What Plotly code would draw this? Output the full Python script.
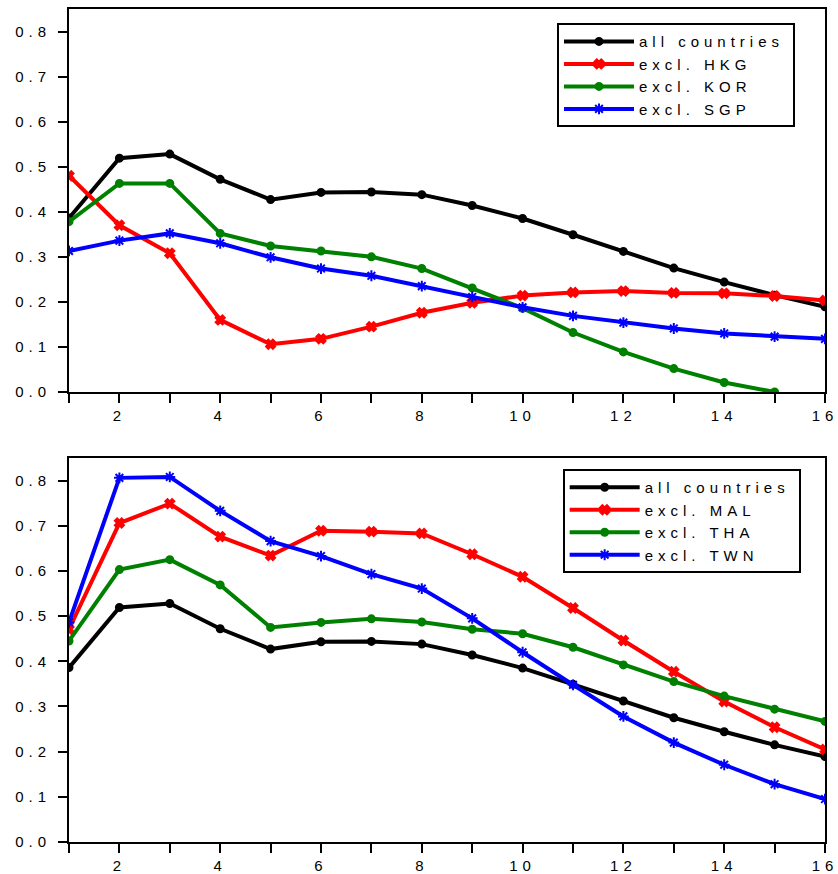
import plotly.graph_objects as go
from plotly.subplots import make_subplots

x = list(range(1, 17))

all_countries = [0.386, 0.519, 0.528, 0.472, 0.427, 0.443, 0.444, 0.438, 0.414, 0.385,
                 0.349, 0.312, 0.275, 0.244, 0.215, 0.189]
excl_hkg = [0.480, 0.370, 0.308, 0.160, 0.106, 0.118, 0.145, 0.176, 0.198, 0.214,
            0.221, 0.224, 0.220, 0.219, 0.213, 0.203]
excl_kor = [0.378, 0.463, 0.463, 0.352, 0.324, 0.313, 0.300, 0.274, 0.231, 0.186,
            0.132, 0.089, 0.052, 0.021, 0.000]
excl_sgp = [0.313, 0.336, 0.352, 0.330, 0.299, 0.274, 0.258, 0.235, 0.211, 0.188,
            0.169, 0.154, 0.141, 0.130, 0.123, 0.118]

excl_mal = [0.471, 0.706, 0.749, 0.676, 0.634, 0.689, 0.687, 0.683, 0.637, 0.587,
            0.518, 0.446, 0.377, 0.311, 0.254, 0.205]
excl_tha = [0.445, 0.603, 0.625, 0.569, 0.475, 0.486, 0.494, 0.487, 0.471, 0.461,
            0.431, 0.392, 0.355, 0.323, 0.294, 0.267]
excl_twn = [0.486, 0.806, 0.808, 0.733, 0.666, 0.633, 0.593, 0.561, 0.495, 0.420,
            0.348, 0.278, 0.220, 0.171, 0.128, 0.095]

x_tickvals = list(range(1, 17))
x_ticktext = [str(v) if v % 2 == 0 else "" for v in x_tickvals]
y_tickvals = [0.0, 0.1, 0.2, 0.3, 0.4, 0.5, 0.6, 0.7, 0.8]

FONT = "Liberation Sans, Arial, sans-serif"

fig = make_subplots(rows=2, cols=1, vertical_spacing=0.08)

top_series = [
    ("all countries", all_countries, "black", "circle", 7),
    ("excl. HKG", excl_hkg, "#ff0000", "x", 8),
    ("excl. KOR", excl_kor, "#008000", "circle", 7),
    ("excl. SGP", excl_sgp, "#0000ff", "asterisk-open", 9),
]
bot_series = [
    ("all countries", all_countries, "black", "circle", 7),
    ("excl. MAL", excl_mal, "#ff0000", "x", 8),
    ("excl. THA", excl_tha, "#008000", "circle", 7),
    ("excl. TWN", excl_twn, "#0000ff", "asterisk-open", 9),
]

for name, vals, col, sym, sz in top_series:
    fig.add_trace(go.Scatter(
        x=x[:len(vals)], y=vals, name=name, mode="lines+markers",
        line=dict(color=col, width=4),
        marker=dict(symbol=sym, size=sz, color=col, line=dict(color=col, width=2)),
        legend="legend"), row=1, col=1)

for name, vals, col, sym, sz in bot_series:
    fig.add_trace(go.Scatter(
        x=x[:len(vals)], y=vals, name=name, mode="lines+markers",
        line=dict(color=col, width=4),
        marker=dict(symbol=sym, size=sz, color=col, line=dict(color=col, width=2)),
        legend="legend2"), row=2, col=1)

axis_common = dict(showline=True, linecolor="black", linewidth=2, mirror=True,
                   ticks="outside", ticklen=9, tickwidth=1.5, tickcolor="black",
                   showgrid=False, zeroline=False, automargin=False,
                   tickfont=dict(family=FONT, size=15, color="black"))

for r in (1, 2):
    fig.update_xaxes(range=[1, 16], tickvals=x_tickvals, ticktext=x_ticktext,
                     **axis_common, row=r, col=1)
    fig.update_yaxes(range=[0, 0.85], tickvals=y_tickvals, tickformat=".1f",
                     ticklabelstandoff=4, **axis_common, row=r, col=1)

legend_common = dict(xanchor="left", yanchor="top", orientation="v",
                     bordercolor="black", borderwidth=2, bgcolor="white",
                     itemwidth=70, tracegroupgap=0,
                     font=dict(family=FONT, size=15, color="black"))

fig.update_layout(
    yaxis=dict(domain=[0.5402, 1.0]),
    yaxis2=dict(domain=[0.0, 0.461]),
    width=838, height=874,
    margin=dict(l=69, r=13, t=9, b=32),
    paper_bgcolor="white", plot_bgcolor="white",
    font=dict(family=FONT, size=15, color="black"),
    legend=dict(x=0.6455, y=0.983, **legend_common),
    legend2=dict(x=0.653, y=0.4478, **legend_common),
)

post = """
var st = document.createElement('style');
st.textContent = '.xtick text,.ytick text,.x2tick text,.y2tick text,' +
  '.legendtext,.legend2text,g.legend2 text.legendtext{letter-spacing:5px}';
document.head.appendChild(st);
document.body.style.margin = '0';
var gd = document.getElementById('{plot_id}');
gd.querySelectorAll('g.legend rect.bg, g.legend2 rect.bg').forEach(function(r) {
  r.setAttribute('width', 236);
});
gd.querySelectorAll('clipPath[id^="legend"] rect').forEach(function(r) {
  r.setAttribute('width', 234);
});
gd.querySelectorAll('g.legend2 text, g.legend text').forEach(function(t) {
  t.style.letterSpacing = '5px';
});
"""

fig.write_html("out.html", post_script=post, config={"displayModeBar": False})
